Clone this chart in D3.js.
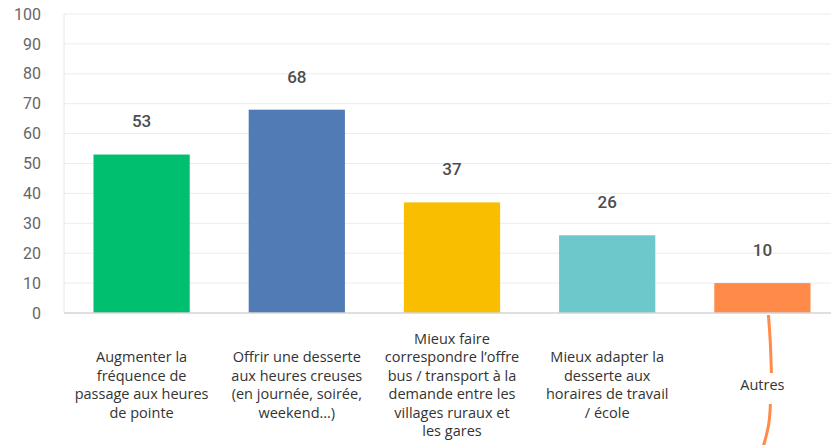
<!DOCTYPE html>
<html>
<head>
<meta charset="utf-8">
<script src="https://cdn.jsdelivr.net/npm/d3@7"></script>
<style>
  body { margin: 0; background: #fff; }
  svg { display: block; }
</style>
</head>
<body>
<script>
var width = 831;
var height = 445;

// data
var categories = ["c1", "c2", "c3", "c4", "c5"];
var values = [53, 68, 37, 26, 10];
var labelLines = [
  ["Augmenter la", "fréquence de", "passage aux heures", "de pointe"],
  ["Offrir une desserte", "aux heures creuses", "(en journée, soirée,", "weekend…)"],
  ["Mieux faire", "correspondre l’offre", "bus / transport à la", "demande entre les", "villages ruraux et", "les gares"],
  ["Mieux adapter la", "desserte aux", "horaires de travail", "/ école"],
  ["Autres"]
];
var colors = ["#00bf6f", "#507bb5", "#f9be00", "#6cc8cb", "#ff8a4a"];
var yTicks = [0, 10, 20, 30, 40, 50, 60, 70, 80, 90, 100];

var svg = d3.select("body").append("svg")
  .attr("width", width)
  .attr("height", height);

var x = d3.scaleBand()
  .domain(categories)
  .range([64, 840])
  .paddingInner(0.38)
  .paddingOuter(0.19);

var y = d3.scaleLinear()
  .domain([0, 100])
  .range([313, 14]);

// gridlines
svg.append("g").selectAll("line")
  .data(yTicks.filter(function(d){ return d > 0; }))
  .enter().append("line")
  .attr("x1", 64).attr("x2", width)
  .attr("y1", function(d){ return y(d); })
  .attr("y2", function(d){ return y(d); })
  .attr("stroke", "#ececec")
  .attr("stroke-width", 1);

// left line
svg.append("line")
  .attr("x1", 64).attr("x2", 64)
  .attr("y1", y(100)).attr("y2", y(0))
  .attr("stroke", "#e6e6e6");

// y axis labels
var yAxis = d3.axisLeft(y).tickValues(yTicks).tickSize(0).tickPadding(0);
var yg = svg.append("g")
  .attr("transform", "translate(41,0)")
  .call(yAxis);
yg.select(".domain").remove();
yg.selectAll("text")
  .attr("font-family", "Roboto, sans-serif")
  .attr("font-size", "16px")
  .attr("fill", "#666");

// bars
svg.append("g").selectAll("rect")
  .data(values)
  .enter().append("rect")
  .attr("x", function(d, i){ return x(categories[i]); })
  .attr("y", function(d){ return y(d); })
  .attr("width", x.bandwidth())
  .attr("height", function(d){ return y(0) - y(d); })
  .attr("fill", function(d, i){ return colors[i]; });

// baseline
svg.append("line")
  .attr("x1", 64).attr("x2", width)
  .attr("y1", y(0)).attr("y2", y(0))
  .attr("stroke", "#d4d4d4")
  .attr("stroke-width", 1.5);

// value labels
svg.append("g").selectAll("text")
  .data(values)
  .enter().append("text")
  .attr("x", function(d, i){ return x(categories[i]) + x.bandwidth() / 2; })
  .attr("y", function(d){ return y(d) - 33; })
  .attr("dy", "0.35em")
  .attr("text-anchor", "middle")
  .attr("font-family", "Roboto, sans-serif")
  .attr("font-size", "17px")
  .attr("font-weight", 500)
  .attr("fill", "#4d4d4d")
  .text(function(d){ return d; });

// orange connector under "Autres"
var cx5 = x(categories[4]) + x.bandwidth() / 2;
var line = d3.line().curve(d3.curveBasis);
svg.append("path")
  .attr("d", line([[cx5 + 6, y(0) + 2], [cx5 + 8, 340], [cx5 + 9, 373]]))
  .attr("fill", "none").attr("stroke", "#ff8a4a").attr("stroke-width", 3);
svg.append("path")
  .attr("d", line([[cx5 + 8, 404], [cx5 + 7, 425], [cx5 + 1, 446]]))
  .attr("fill", "none").attr("stroke", "#ff8a4a").attr("stroke-width", 3);

// category labels
var lineH = 18.5;
var lg = svg.append("g").selectAll("text")
  .data(labelLines)
  .enter().append("text")
  .attr("text-anchor", "middle")
  .attr("font-family", "'Open Sans', sans-serif")
  .attr("font-size", "14.5px")
  .attr("fill", "#333");
lg.each(function(lines, i){
  var t = d3.select(this);
  var cx = x(categories[i]) + x.bandwidth() / 2;
  var top = 385 - (lines.length - 1) * lineH / 2;
  lines.forEach(function(s, j){
    t.append("tspan")
      .attr("x", cx)
      .attr("y", top + j * lineH)
      .attr("dy", "0.35em")
      .text(s);
  });
});
</script>
</body>
</html>
